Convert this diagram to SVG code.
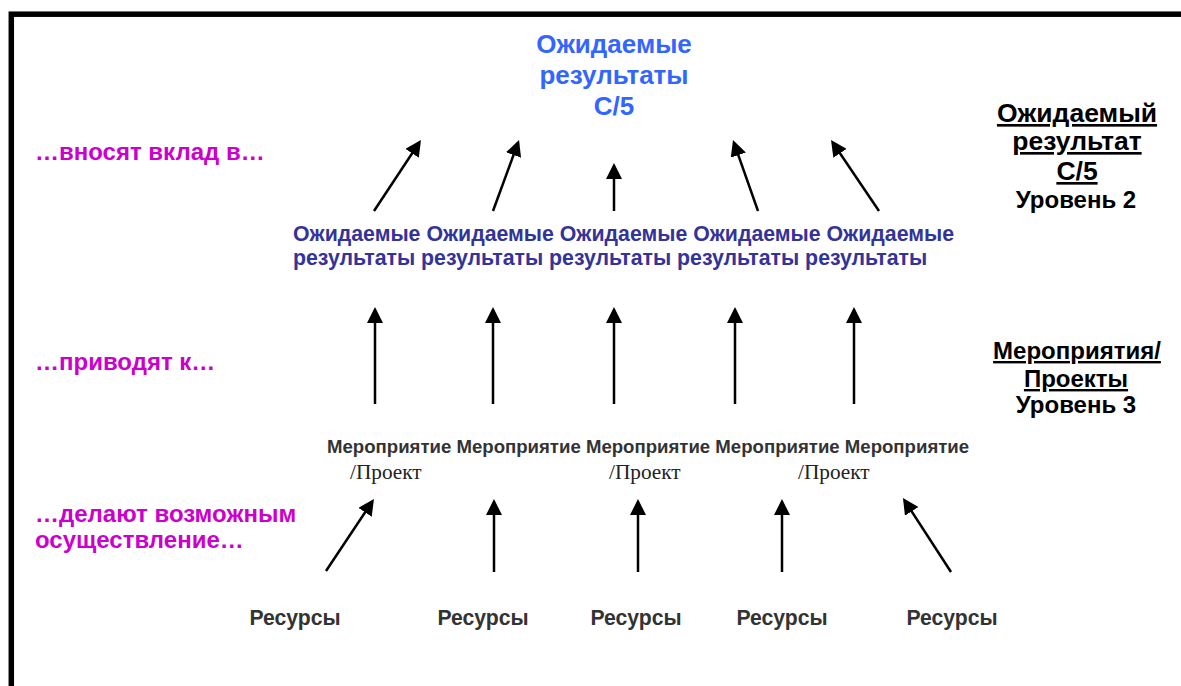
<svg xmlns="http://www.w3.org/2000/svg" width="1181" height="686" viewBox="0 0 1181 686">
<style>
text{font-family:"Liberation Sans",Arial,sans-serif;font-weight:bold}
.title{fill:#3366FF;font-size:26px;text-anchor:middle}
.mag{fill:#CC00CC;font-size:24px}
.lvl{fill:#000;font-size:26.5px;text-anchor:middle}
.lvls{fill:#000;font-size:24px;text-anchor:middle}
.res{fill:#333399;font-size:21.3px}
.act{fill:#333333;font-size:18.6px}
.proj{font-family:"Liberation Serif","Times New Roman",serif;font-weight:normal;fill:#222;font-size:21.3px}
.rsrc{fill:#333333;font-size:21.2px;text-anchor:middle}
.u{text-decoration:underline}
line{stroke:#000;stroke-width:2.5;marker-end:url(#ah)}
</style>
<defs>
<marker id="ah" markerUnits="userSpaceOnUse" markerWidth="16" markerHeight="16" refX="13" refY="8" orient="auto" viewBox="0 0 16 16">
<path d="M0,0 L16,8 L0,16 z" fill="#000"/>
</marker>
</defs>
<rect x="11.3" y="14.2" width="1200" height="700" fill="none" stroke="#000" stroke-width="5.5"/>
<g id="goal">
<text class="title" x="614" y="53">Ожидаемые</text>
<text class="title" x="614" y="84">результаты</text>
<text class="title" x="614" y="115">С/5</text>
</g>
<g id="labels-left">
<text class="mag" x="35" y="160">…вносят вклад в…</text>
<text class="mag" x="35" y="370">…приводят к…</text>
<text class="mag" x="35" y="522">…делают возможным</text>
<text class="mag" x="35" y="548">осуществление…</text>
</g>
<g id="level2">
<text class="lvl u" x="1077" y="122">Ожидаемый</text>
<text class="lvl u" x="1077" y="150">результат</text>
<text class="lvl u" x="1077" y="180">С/5</text>
<text class="lvls" x="1076" y="208">Уровень 2</text>
</g>
<g id="level3">
<text class="lvls u" x="1077" y="359">Мероприятия/</text>
<text class="lvls u" x="1076" y="387">Проекты</text>
<text class="lvls" x="1076" y="413">Уровень 3</text>
</g>
<g id="results">
<text class="res" x="293" y="241">Ожидаемые Ожидаемые Ожидаемые Ожидаемые Ожидаемые</text>
<text class="res" x="293" y="265">результаты результаты результаты результаты результаты</text>
</g>
<g id="activities">
<text class="act" x="327" y="453">Мероприятие Мероприятие Мероприятие Мероприятие Мероприятие</text>
<text class="proj" x="350" y="479">/Проект</text>
<text class="proj" x="609" y="479">/Проект</text>
<text class="proj" x="798" y="479">/Проект</text>
</g>
<g id="resources">
<text class="rsrc" x="295" y="625">Ресурсы</text>
<text class="rsrc" x="483" y="625">Ресурсы</text>
<text class="rsrc" x="636" y="625">Ресурсы</text>
<text class="rsrc" x="782" y="625">Ресурсы</text>
<text class="rsrc" x="952" y="625">Ресурсы</text>
</g>
<g id="connectors">
<line x1="374" y1="211" x2="419.3" y2="142.5"/>
<line x1="493" y1="211" x2="518" y2="142.8"/>
<line x1="614" y1="211" x2="614" y2="166"/>
<line x1="758" y1="211" x2="734" y2="142.8"/>
<line x1="879" y1="211" x2="832.7" y2="142.5"/>
<line x1="375" y1="404" x2="375" y2="310"/>
<line x1="493" y1="404" x2="493" y2="310"/>
<line x1="614" y1="404" x2="614" y2="310"/>
<line x1="735" y1="404" x2="735" y2="310"/>
<line x1="854" y1="404" x2="854" y2="310"/>
<line x1="326" y1="571" x2="372.3" y2="501.5"/>
<line x1="494" y1="572" x2="494" y2="502"/>
<line x1="638" y1="572" x2="638" y2="502"/>
<line x1="782" y1="572" x2="782" y2="502"/>
<line x1="951" y1="572" x2="904.6" y2="500.5"/>
</g>
</svg>
